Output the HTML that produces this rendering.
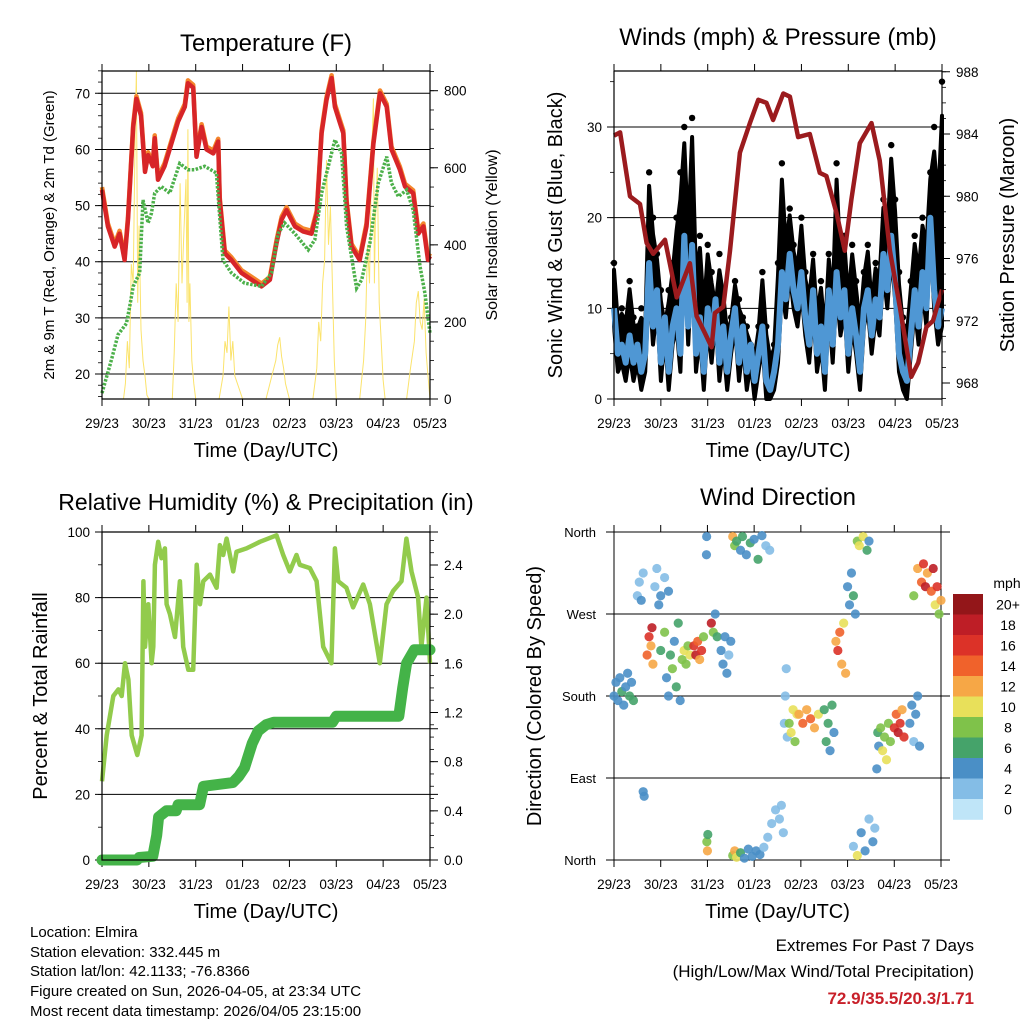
<!DOCTYPE html>
<html><head><meta charset="utf-8">
<style>
html,body{margin:0;padding:0;background:#fff;}
svg{display:block;font-family:"Liberation Sans",sans-serif;}
</style></head>
<body>
<svg id="fig" width="1024" height="1024" viewBox="0 0 1024 1024" xmlns="http://www.w3.org/2000/svg">
<rect width="1024" height="1024" fill="#fff"/>
<g id="p1"></g>
<g id="p2"></g>
<g id="p3"></g>
<g id="p4"></g>
<g id="cbar"></g>
<g font-size="15" fill="#000">
<text x="30" y="937">Location: Elmira</text>
<text x="30" y="957">Station elevation: 332.445 m</text>
<text x="30" y="976">Station lat/lon: 42.1133; -76.8366</text>
<text x="30" y="996">Figure created on Sun, 2026-04-05, at 23:34 UTC</text>
<text x="30" y="1016">Most recent data timestamp: 2026/04/05 23:15:00</text>
</g>
<g text-anchor="end">
<text x="974" y="951" font-size="17">Extremes For Past 7 Days</text>
<text x="974" y="977" font-size="17">(High/Low/Max Wind/Total Precipitation)</text>
<text x="974" y="1004" font-size="17" font-weight="bold" fill="#c8202a">72.9/35.5/20.3/1.71</text>
</g>
</svg>
<script>
// ---------- DATA ----------
const dayLabels = ["29/23","30/23","31/23","01/23","02/23","03/23","04/23","05/23"];
const tempHours = [0,3,6.5,9,11.6,13.3,16,17.6,20,22,23.6,26,27,28.7,32,35.5,39,42.4,44,46.7,48.4,51,53.5,57,59.5,60.3,62.9,66.3,71.4,76.6,81.7,86,89.4,92,94.5,98.8,103,107.3,110,112.5,115,117.6,119.3,121.9,123.6,125.3,127.8,132,135.5,139,142.4,145.8,148.3,152.6,155.2,159.4,162,164.6,167,168];
const tempValues = [52.8,46.3,42.7,45,40.3,47.5,64,69,66,56,59,57,62,54.6,57,61,65,67.6,71.8,71,58.7,64,60,59.3,61.4,51,41.5,40.3,38,36.8,35.6,36.8,43.3,47.5,49.2,46.3,45.4,45,48.6,62.9,68.8,72.7,67.6,64.7,62.9,50.4,42.7,40.3,46.3,61,70,67.6,60,56.4,53.4,52.2,45,46.3,40.3,41];
const dewHours = [0,4.8,8.2,12.5,14.2,16,19.3,21,23.6,25.3,27,30.4,34.7,39.8,44,47.5,52.6,58.6,62,66.3,73,81.7,86.8,90.2,93.6,98.8,105.6,109,112.5,115.9,119.3,122.7,125.3,130.4,133,137.2,141.5,145.8,148.3,151.8,156,159.4,162.9,165.4,168];
const dewValues = [16.6,22.5,27,29,32,35.6,38,51,46.9,48.6,52.2,53.4,52.2,57.5,56.4,56.4,57,55.8,40.3,38,36.2,35.6,38,45,46.9,45,42.1,43.9,52.2,57,61.7,59.3,46.3,35.3,36.8,43.3,54,58.7,54,51.6,52.8,49.2,39.2,34.4,27.3];
const solarHours = [0,11,12,13,14,15,16,17,17.6,18.3,19,20,21,22,23,24,36,37,38,39,40,41,42,43,43.6,44,44.5,45,46,47,48,60,62,63,64,65,66,67,68,70,72,84,86,88,89,90,91,92,93,94,96,108,110,111,112,113,114,115,116,117,118,119,120,132,134,135,136,137,138,139,139.5,140,141,142,143,144,145,156,158,160,161,162,163,164,165,166,167,168];
const solarValues = [0,0,40,150,80,350,300,700,850,250,450,180,100,60,10,0,0,120,300,200,560,300,440,570,250,700,200,300,100,40,0,0,60,150,120,240,100,150,60,30,0,0,40,80,100,140,160,110,80,40,0,0,80,200,150,300,360,620,400,500,300,100,0,0,100,200,400,300,600,780,300,450,600,250,150,50,0,0,80,150,250,280,200,180,260,120,60,0];

const windHours = [];for(let i=0;i<=84;i++)windHours.push(i*2);
const windValues = [10,5,6,4,7,4,6,3,5,15,8,12,4,9,3,8,10,5,18,8,17,5,9,3,10,6,11,4,8,3,7,10,4,8,3,6,2,5,8,2,1,3,6,14,11,16,12,10,14,9,6,12,5,8,3,12,6,14,9,12,5,10,7,3,10,12,7,11,9,16,12,18,13,5,3,2,7,12,8,14,10,20,12,8,10];
const gustValues = [15,9,10,9,13,9,8,10,8,25,20,16,12,8,12,15,20,25,30,20,31,15,18,11,17,14,10,16,12,8,9,13,11,9,8,6,5,8,14,8,5,6,15,26,18,21,17,15,20,14,12,16,10,13,8,16,12,26,16,18,12,17,13,9,14,17,11,15,14,22,19,28,22,14,9,8,13,18,15,20,18,25,30,24,35];
const presHours = [0,3.1,8.2,13.3,16.7,20.1,26.1,32.1,38.9,42.3,46.6,50,51.7,56,59.4,64.5,69.6,73.9,78.1,81.5,86.7,90.1,94.3,100.3,105.4,108.8,114,118.2,121.6,125.9,131.9,136.1,141.3,146.4,152.3,155.8,160,163.4,168];
const presValues = [983.9,984.1,980,979.5,977,976.3,977.2,973.5,975.7,972.3,971.2,970.3,972.5,972.9,976.5,982.8,984.7,986.2,986,984.9,986.6,986.4,983.8,984,981.5,981.3,978.9,976.5,979.8,983.4,984.7,982.3,976.5,972.9,968.4,969.3,971.6,972,974];

const rhHours = [0,2.4,5.8,8.4,10.1,11.8,13.5,15.2,18.1,20.3,21.2,22,23.7,25.4,26.3,27.1,28.8,30.5,32.2,33.1,34.8,37.4,39.9,41.6,44.2,46.7,48.5,50.2,51.9,55.3,58.7,60.4,62.1,63.8,67.2,68.9,74,80.9,89.4,92.8,96.2,99.6,101.3,106.5,109.9,113.3,117.5,119.3,121,125.2,128.6,133.8,137.2,142.3,145.7,149.1,153.4,155.9,158.5,161.9,163.6,166.2,168];
const rhValues = [24,38,50,52,50,60,55,38,32,38,85,65,78,60,65,90,97,92,95,78,75,68,85,65,58,58,90,78,85,87,83,96,93,98,88,94,95,97,99,93,88,93,90,89,85,65,60,95,85,83,77,84,78,60,78,82,85,98,88,80,65,80,60];
const precipHours = [0,18,19,26,28,29,33,38,39,50,52,67,70,73,77,80,84,88,118,120,152,154,156,160,168];
const precipTotals = [0,0,0.02,0.03,0.2,0.35,0.4,0.4,0.45,0.45,0.6,0.63,0.68,0.75,0.95,1.05,1.1,1.12,1.12,1.17,1.17,1.4,1.6,1.71,1.71];

const dirHours = [0,1,2,3,4,5,6,7,8,9,10, 12,13,14,15,15,15.5, 17,18,19,20,19.5, 21,22,24,26,28,23, 24,26,27,28,29,30,31,32,33,34, 35,36,37,38,39, 41,42,43,44,45,46, 47.5,47.6,47.7,48,48.2, 50,51,52,53, 55,56,57,58,59,60, 61,62,63,65,66,68,70,72,74,76,78,80, 61,62,63,65,67,69,71,73,75,77, 79,81,83,85,86,87, 87.5,88,88.5,89, 90,91,92,93,94, 95,97,99,101,103,105, 108,109,110,111,112,113, 114,115,116,117,118,119, 120,121,122,123,124, 125,126,128,130,131, 123,125,127,129,131,133,134, 135,135.5,136,137,138,139,140,141,142, 144,145,146,147,148,149, 152,153,154,155,156,157, 154,156,158,159,160,161,163,164,165,166,167,168];
const dirDegrees = [180,195,175,200,185,170,190,205,180,195,175, 290,305,285,315,75,70, 225,245,235,215,255, 300,320,290,310,295,280, 230,250,200,180,225,210,240,190,260,175, 220,230,215,235,225, 235,225,240,220,230,245, 335,355,20,10,28, 260,250,270,245, 230,215,245,205,225,240, 355,345,350,340,355,335,348,352,330,356,345,340, 5,10,3,8,2,12,4,10,6,14, 25,40,55,45,60,30, 150,180,210,135, 150,140,165,130,160, 160,150,165,155,145,160, 165,130,150,120,170,140, 240,230,250,215,260,205, 300,280,315,290,270, 350,345,355,340,350, 15,5,30,10,45,20,35, 100,140,125,145,120,135,110,150,130, 145,160,140,150,165,135, 150,170,130,160,180,125, 290,320,305,325,300,315,295,320,280,300,270,285];
const dirSpeeds = [4,3,4,3,5,4,3,4,6,3,5, 2,2,3,2,4,4, 14,16,12,12,17, 2,2,3,2,3,4, 6,8,4,3,6,8,4,5,6,4, 8,9,8,7,10, 16,18,14,12,16,8, 4,3,8,12,6, 18,8,4,6, 4,4,3,4,2,4, 12,8,6,4,6,4,6,4,5,3,2,1, 8,12,10,6,4,4,3,4,3,2, 2,2,2,1,2,2, 2,1,2,2, 8,10,9,8,10, 12,14,12,13,12,10, 6,6,5,4,6,4, 12,16,14,12,10,11, 4,3,4,5,3, 8,10,9,6,4, 2,10,3,4,2,3,2, 4,6,3,8,10,8,9,8,7, 16,14,18,16,12,16, 4,4,2,4,3,4, 8,12,14,16,18,12,14,18,10,16,8,12];
const cbarLabels = ["20+","18","16","14","12","10","8","6","4","2","0"];
const cbarColors = ["#931619","#be1e26","#dc3228","#f0622b","#f6a746","#e8e05a","#7fc24a","#45a36a","#4a8fc6","#84bde6","#bfe5f8"];

// ---------- HELPERS ----------
const NS="http://www.w3.org/2000/svg";
function mk(tag,attrs,parent){const e=document.createElementNS(NS,tag);for(const k in attrs)e.setAttribute(k,attrs[k]);parent.appendChild(e);return e;}
function txt(parent,x,y,s,size,anchor,rot){const e=mk('text',{x:x,y:y,'font-size':size,'text-anchor':anchor||'middle'},parent);if(rot)e.setAttribute('transform','rotate(-90 '+x+' '+y+')');e.textContent=s;return e;}
function lin(a,b,c,d){return v=>c+(v-a)*(d-c)/(b-a);}
function pathFrom(xs,ys,sx,sy){let d='';for(let i=0;i<xs.length;i++)d+=(i?'L':'M')+sx(xs[i]).toFixed(1)+','+sy(ys[i]).toFixed(1);return d;}

function frame(g,x0,x1,y0,y1,opts){
  const sx=lin(0,168,x0,x1);
  for(let d=0;d<=7;d++){
    const x=sx(d*24);
    const t=mk('line',{x1:x,x2:x,y1:y1,y2:y1+7,stroke:'#000','stroke-width':1},g);
    
    if(opts.topTicks){const t2=mk('line',{x1:x,x2:x,y1:y0,y2:y0-7,stroke:'#000','stroke-width':1},g);}
    const l=txt(g,x,y1+29,dayLabels[d],13.5);
    
  }
  const xt=txt(g,(x0+x1)/2,y1+58,'Time (Day/UTC)',20);
  
  return sx;
}
function border(g,x0,x1,y0,y1,top){
  const a={stroke:'#000','stroke-width':1.2,fill:'none'};
  const b=mk('path',Object.assign({d:'M'+x0+','+y0+'V'+y1+'H'+x1+'V'+y0+(top?'H'+x0:'')},a),g);
  
}
function leftAxis(g,x0,x1,sy,majors,labels,minors,gridX1){
  minors.forEach(v=>{const t=mk('line',{x1:x0-4,x2:x0,y1:sy(v),y2:sy(v),stroke:'#000','stroke-width':0.8},g);});
  majors.forEach((v,i)=>{
    const y=sy(v);
    const gl=mk('line',{x1:x0-7,x2:gridX1||x1,y1:y,y2:y,stroke:'#000','stroke-width':1},g);
    
    const l=txt(g,x0-12,y+5,labels[i],13.5,'end');
    
  });
}
function rightAxis(g,x1,sy,majors,labels,minors){
  minors.forEach(v=>{const t=mk('line',{x1:x1,x2:x1+4,y1:sy(v),y2:sy(v),stroke:'#000','stroke-width':0.8},g);});
  majors.forEach((v,i)=>{
    const y=sy(v);
    const t=mk('line',{x1:x1,x2:x1+8,y1:y,y2:y,stroke:'#000','stroke-width':1},g);
    
    const l=txt(g,x1+14,y+5,labels[i],13.5,'start');
    
  });
}
function range(a,b,s){const r=[];for(let v=a;v<=b+1e-9;v+=s)r.push(+v.toFixed(4));return r;}

// ---------- PANEL 1: TEMPERATURE ----------
(function(){
  const g=document.getElementById('p1');
  const x0=102,x1=430,y0=71,y1=399;
  const sx=frame(g,x0,x1,y0,y1,{topTicks:true});
  const sy=lin(20,70,374,93.3);
  const sy2=lin(0,800,399,90.7);
  leftAxis(g,x0,x1,sy,[20,30,40,50,60,70],['20','30','40','50','60','70'],range(16,74,2));
  rightAxis(g,x1,sy2,[0,200,400,600,800],['0','200','400','600','800'],range(0,850,50));
  const sol=mk('path',{d:pathFrom(solarHours,solarValues,sx,sy2),fill:'none',stroke:'#fbe36c','stroke-width':1},g);
  
  const o=mk('path',{d:pathFrom(tempHours,tempValues.map(v=>v+0.5),sx,sy),fill:'none',stroke:'#f4862c','stroke-width':4.5,'stroke-linejoin':'round'},g);
  
  const r=mk('path',{d:pathFrom(tempHours,tempValues,sx,sy),fill:'none',stroke:'#d72528','stroke-width':4.5,'stroke-linejoin':'round'},g);
  
  const dw=mk('path',{d:pathFrom(dewHours,dewValues,sx,sy),fill:'none',stroke:'#4cb04a','stroke-width':3.5,'stroke-dasharray':'2.5 1.5'},g);
  
  border(g,x0,x1,y0,y1,true);
  const t=txt(g,266,51,'Temperature (F)',24);
  const yl=txt(g,54,235,'2m & 9m T (Red, Orange) & 2m Td (Green)',15,'middle',true);
  const yr=txt(g,497,235,'Solar Insolation (Yellow)',16,'middle',true);
})();

// ---------- PANEL 2: WINDS ----------
(function(){
  const g=document.getElementById('p2');
  const x0=614,x1=942,y0=71,y1=399;
  const sx=frame(g,x0,x1,y0,y1,{topTicks:true});
  const sy=lin(0,30,399,127);
  const sy2=lin(968,984,383,134);
  leftAxis(g,x0,x1,sy,[0,10,20,30],['0','10','20','30'],range(0,35,5));
  rightAxis(g,x1,sy2,[968,972,976,980,984,988],['968','972','976','980','984','988'],range(967,988,1));
  let d='M'+sx(windHours[0])+','+sy(windValues[0]);
  for(let i=0;i<windHours.length;i++)d+='L'+sx(windHours[i]).toFixed(1)+','+sy(gustValues[i]*0.85+windValues[i]*0.15).toFixed(1);
  for(let i=windHours.length-1;i>=0;i--)d+='L'+sx(windHours[i]).toFixed(1)+','+sy(Math.max(0,windValues[i]-2)).toFixed(1);
  const band=mk('path',{d:d+'Z',fill:'#000',stroke:'#000','stroke-width':4,'stroke-linejoin':'round'},g);
  
  for(let i=0;i<windHours.length;i++){
    const c=mk('circle',{cx:sx(windHours[i]),cy:sy(gustValues[i]),r:3.2,fill:'#000'},g);
    
  }
  const w=mk('path',{d:pathFrom(windHours,windValues,sx,sy),fill:'none',stroke:'#4f97d4','stroke-width':6,'stroke-linejoin':'round'},g);
  
  const p=mk('path',{d:pathFrom(presHours,presValues,sx,sy2),fill:'none',stroke:'#9b1b1e','stroke-width':4.5,'stroke-linejoin':'round'},g);
  
  border(g,x0,x1,y0,y1,true);
  const t=txt(g,778,45,'Winds (mph) & Pressure (mb)',24);
  const yl=txt(g,562,235,'Sonic Wind & Gust (Blue, Black)',20,'middle',true);
  const yr=txt(g,1014,235,'Station Pressure (Maroon)',20,'middle',true);
})();

// ---------- PANEL 3: RH & PRECIP ----------
(function(){
  const g=document.getElementById('p3');
  const x0=102,x1=430,y0=532,y1=860;
  const sx=frame(g,x0,x1,y0,y1,{topTicks:true});
  const sy=lin(0,100,860,532);
  const sy2=lin(0,2.4,860,565);
  leftAxis(g,x0,x1,sy,[0,20,40,60,80,100],['0','20','40','60','80','100'],range(0,100,10),438);
  rightAxis(g,x1,sy2,[0,0.4,0.8,1.2,1.6,2.0,2.4],['0.0','0.4','0.8','1.2','1.6','2.0','2.4'],range(0,2.6,0.1));
  const rh=mk('path',{d:pathFrom(rhHours,rhValues,sx,sy),fill:'none',stroke:'#92cb4c','stroke-width':4.5,'stroke-linejoin':'round'},g);
  
  const pr=mk('path',{d:pathFrom(precipHours,precipTotals,sx,sy2),fill:'none',stroke:'#44b348','stroke-width':11,'stroke-linejoin':'round','stroke-linecap':'round'},g);
  
  border(g,x0,x1,y0,y1,true);
  const t=txt(g,266,510,'Relative Humidity (%) & Precipitation (in)',23);
  const yl=txt(g,47,696,'Percent & Total Rainfall',20,'middle',true);
})();

// ---------- PANEL 4: WIND DIRECTION ----------
function speedColor(s){
  const idx=Math.max(0,Math.min(10,Math.round(s/2)));
  return cbarColors[10-idx];
}
(function(){
  const g=document.getElementById('p4');
  const x0=614,x1=941,y0=532,y1=860;
  const sx=frame(g,x0,x1,y0,y1,{topTicks:true});
  const sy=lin(0,360,860,532);
  const names=['North','East','South','West','North'];
  [0,90,180,270,360].forEach((v,i)=>{
    const gl=mk('line',{x1:606,x2:950,y1:sy(v),y2:sy(v),stroke:'#000','stroke-width':1},g);
    
    const l=txt(g,596,sy(v)+5,names[i],13,'end');
    
  });
  [x0,x1].forEach(x=>{const v=mk('line',{x1:x,x2:x,y1:y0,y2:y1,stroke:'#000','stroke-width':1},g);});
  for(let i=0;i<dirHours.length;i++){
    const c=mk('circle',{cx:sx(dirHours[i]),cy:sy(dirDegrees[i]),r:4.6,fill:speedColor(dirSpeeds[i]),opacity:0.9},g);
    
  }
  const t=txt(g,778,505,'Wind Direction',24);
  const yl=txt(g,541,696,'Direction (Colored By Speed)',20,'middle',true);
})();

// ---------- COLORBAR ----------
(function(){
  const g=document.getElementById('cbar');
  const x=953,w=30,top=594,h=20.5;
  cbarColors.forEach((c,i)=>{
    const r=mk('rect',{x:x,y:top+i*h,width:w,height:h+0.3,fill:c},g);
    
    const l=txt(g,1008,top+i*h+h/2+5,cbarLabels[i],14);
    
  });
  const u=txt(g,1007,588,'mph',14);
})();
</script>
</body></html>
